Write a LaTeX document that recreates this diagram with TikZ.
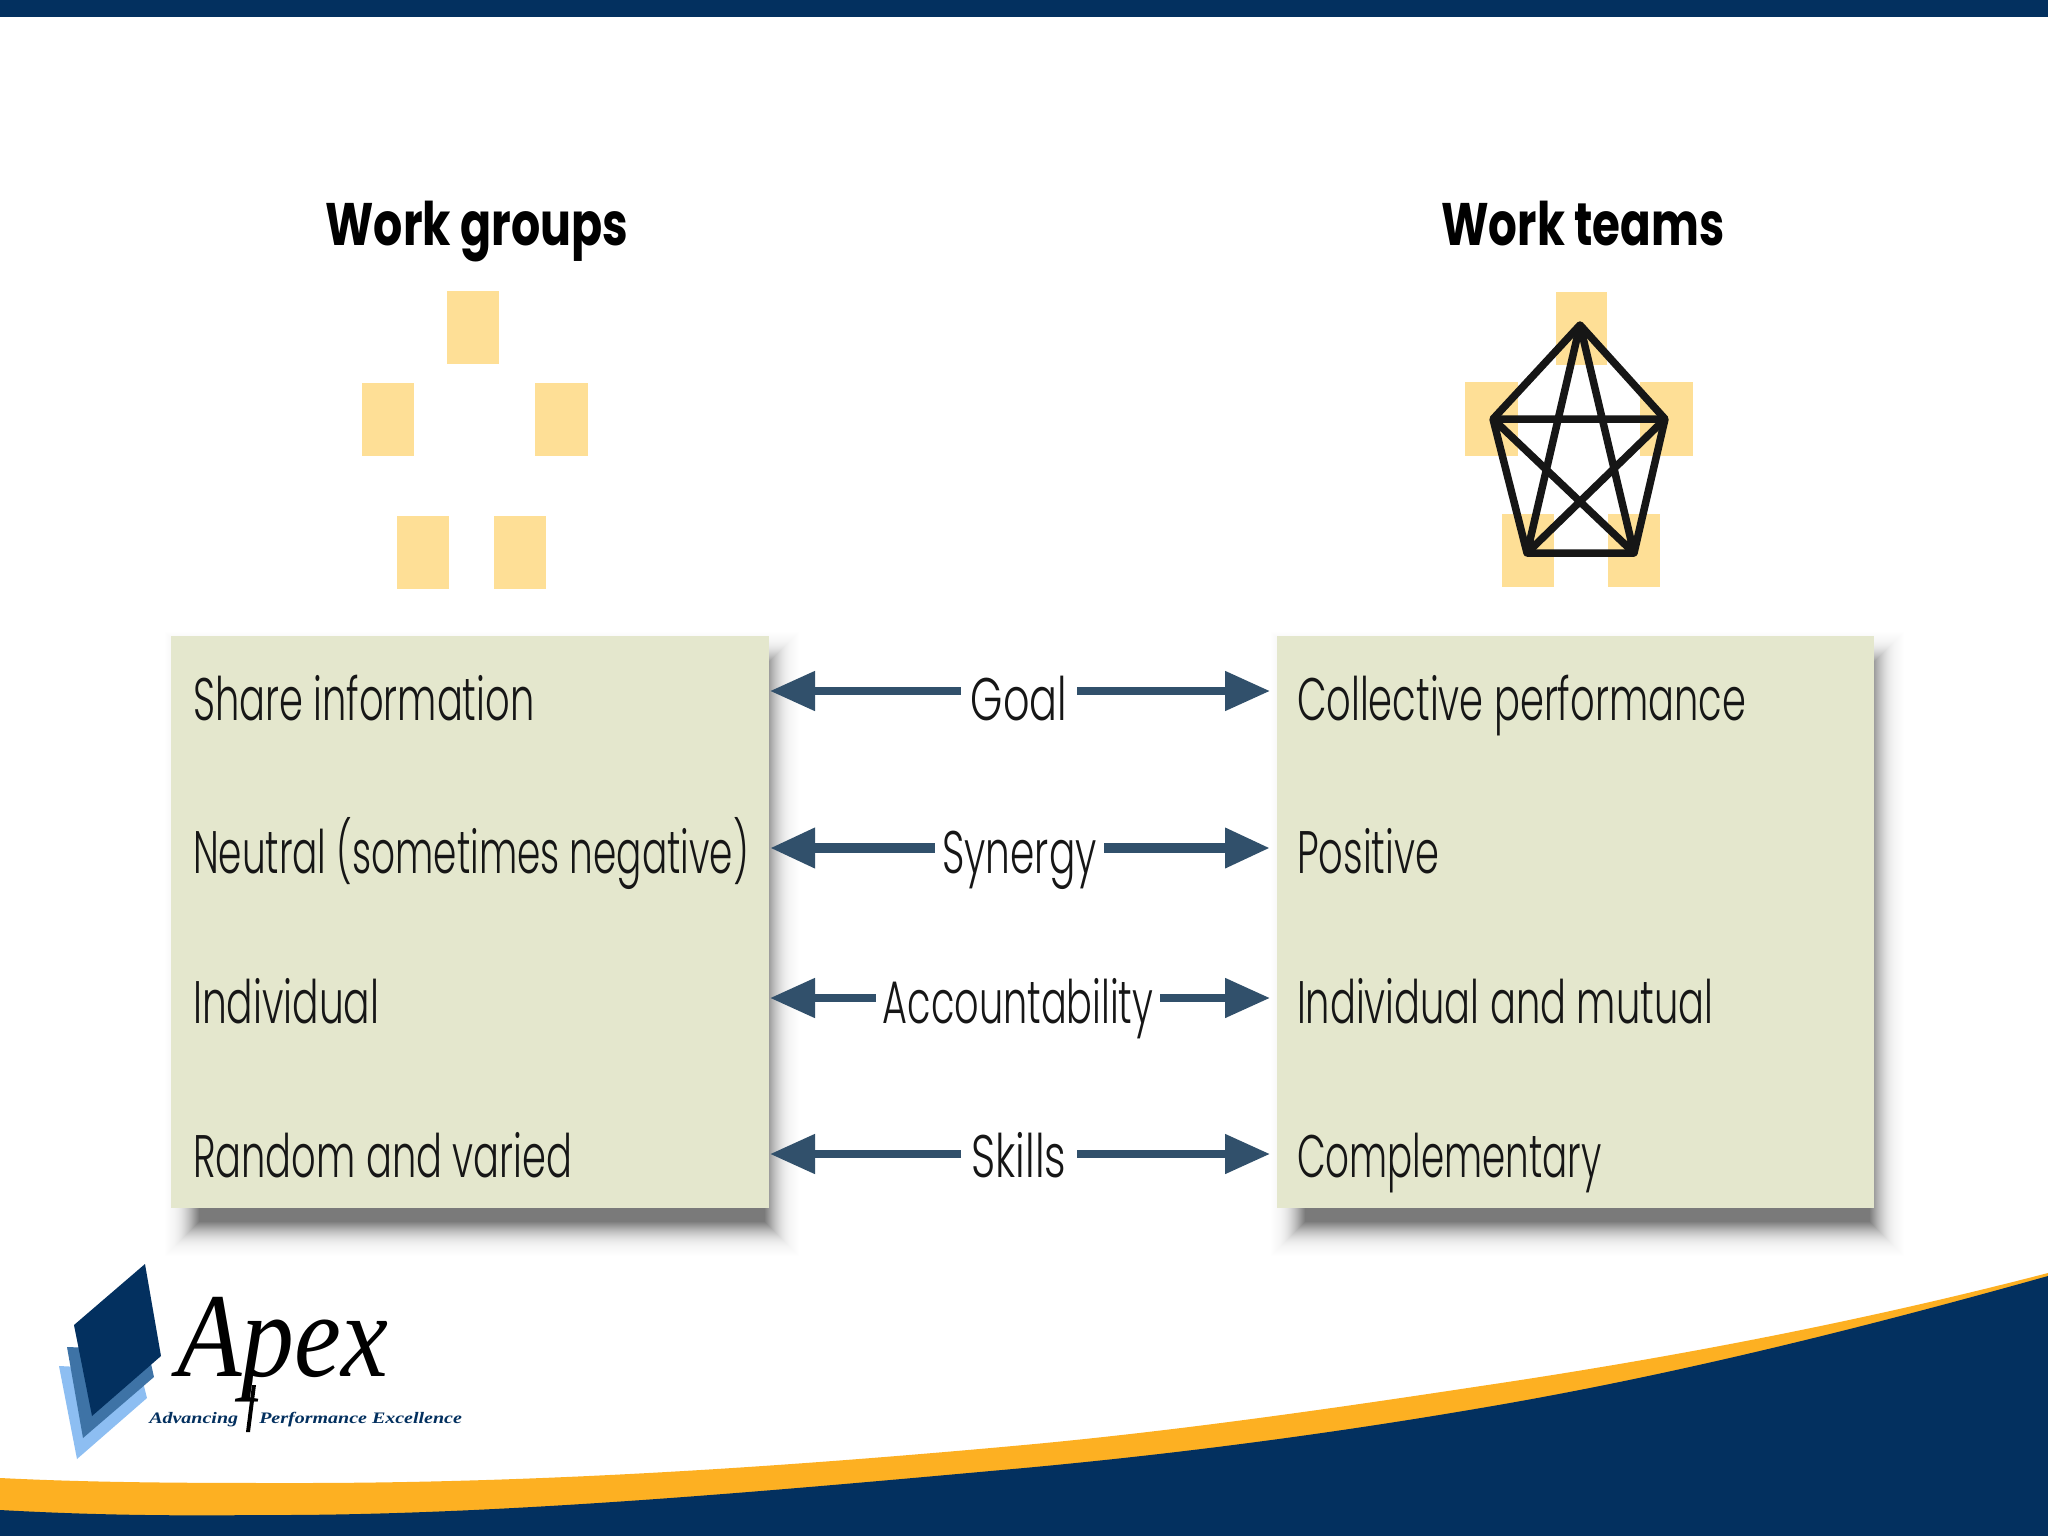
\documentclass[tikz,border=0pt]{standalone}
\usepackage{fontspec}
\setmainfont{Poppins}
\newfontfamily\lightfont{Poppins Light}
\newfontfamily\logofont{Liberation Serif}
\usetikzlibrary{arrows.meta}
\definecolor{navy}{HTML}{03305F}
\definecolor{gold}{HTML}{FDB022}
\definecolor{sand}{HTML}{FEDF96}
\definecolor{sage}{HTML}{E4E7CD}
\definecolor{steel}{HTML}{31506B}
\definecolor{ink}{HTML}{161616}
\definecolor{logomid}{HTML}{3E73A6}
\definecolor{logolight}{HTML}{8DBEF2}
\tikzset{
 x=1pt,y=-1pt,
 member/.style={fill=sand,draw=none},
 link/.style={draw=ink,line width=7.5pt,line join=round},
 panel/.style={fill=sage,draw=none,minimum width=598pt,minimum height=572pt,inner sep=0pt},
 rowtext/.style={anchor=base west,inner sep=0pt,text=ink,font=\lightfont\fontsize{60}{60}\selectfont,xscale=.64},
 headtext/.style={anchor=base,inner sep=0pt,text=black,font=\fontsize{60}{60}\selectfont\bfseries,xscale=.765},
 midtext/.style={inner sep=0pt,text=ink,font=\lightfont\fontsize{60}{60}\selectfont,xscale=.65},
 gaplabel/.style={draw=none,inner sep=0pt,minimum height=40pt},
 arr/.style={draw=steel,line width=8pt,-{Triangle[length=45pt,width=38pt]}},
 arrthick/.style={arr,line width=10pt},
}
\begin{document}
\begin{tikzpicture}
\useasboundingbox (0,0) rectangle (2048,1536);
\fill[white] (0,0) rectangle (2048,1536);
\fill[navy] (0,0) rectangle (2048,17);
% bottom swoosh
\fill[gold] (0,1478) .. controls (100,1483) and (200,1483) .. (300,1483)
  .. controls (541,1483) and (783,1467) .. (1024,1445)
  .. controls (1176,1431) and (1329,1409) .. (1481,1386)
  .. controls (1670,1358) and (1859,1322) .. (2048,1273)
  -- (2048,1536) -- (0,1536) -- cycle;
\fill[navy] (0,1510) .. controls (90,1515) and (170,1516) .. (261,1515)
  .. controls (500,1516) and (780,1490) .. (1024,1468)
  .. controls (1176,1454) and (1329,1434) .. (1481,1408)
  .. controls (1670,1376) and (1859,1329) .. (2048,1276)
  -- (2048,1536) -- (0,1536) -- cycle;
% headers
\node[headtext] (wg) at (477,245) {Work groups};
\node[headtext,xscale=.985] (wt) at (1583,245) {Work teams};
% left members
\fill[member] (447,291) rectangle (499,364);
\fill[member] (362,383) rectangle (414,456);
\fill[member] (535,383) rectangle (588,456);
\fill[member] (397,516) rectangle (449,589);
\fill[member] (494,516) rectangle (546,589);
% right members
\fill[member] (1556,292) rectangle (1607,365);
\fill[member] (1465,382) rectangle (1518,456);
\fill[member] (1640,382) rectangle (1693,456);
\fill[member] (1502,514) rectangle (1554,587);
\fill[member] (1608,514) rectangle (1660,587);
\coordinate (pt) at (1580,325);
\coordinate (pl) at (1493,419);
\coordinate (pr) at (1665,419);
\coordinate (pa) at (1527,553);
\coordinate (pb) at (1634,553);
\draw[link] (pt)--(pr)--(pb)--(pa)--(pl)--cycle;
\draw[link] (pt)--(pa) (pt)--(pb) (pl)--(pr) (pl)--(pb) (pr)--(pa);
% shadows
\foreach \d in {-18,-17,...,16}{
 \pgfmathsetmacro{\op}{.002+.05*((\d+18)/34)*((\d+18)/34)}
 \fill[black,opacity=\op] (183+\d,650+\d) rectangle (781-\d,1238-\d);
 \fill[black,opacity=\op] (1289+\d,650+\d) rectangle (1886-\d,1238-\d);
}
% panels
\node[panel,anchor=north west] (lp) at (171,636) {};
\node[panel,anchor=north west,minimum width=597pt] (rp) at (1277,636) {};
% rows
\node[rowtext] (l1) at (193,720) {Share information};
\node[rowtext,xscale=.975] (l2) at (193,873) {Neutral (sometimes negative)};
\node[rowtext,xscale=1.02] (l3) at (193,1023) {Individual};
\node[rowtext] (l4) at (193,1177) {Random and varied};
\node[rowtext] (r1) at (1297,720) {Collective performance};
\node[rowtext] (r2) at (1297,873) {Positive};
\node[rowtext] (r3) at (1297,1023) {Individual and mutual};
\node[rowtext,xscale=.97] (r4) at (1297,1177) {Complementary};
% connector labels
\node[gaplabel,minimum width=116pt] (g) at (1019,691) {};
\node[gaplabel,minimum width=169pt] (s) at (1019.5,848) {};
\node[gaplabel,minimum width=284pt] (a) at (1018,998) {};
\node[gaplabel,minimum width=116pt] (k) at (1019,1154) {};
\node[midtext,anchor=base,xscale=1.06] (gt) at (1019,720) {Goal};
\node[midtext,anchor=base] (st) at (1019.5,873) {Synergy};
\node[midtext,anchor=base,xscale=.98] (at) at (1018,1023) {Accountability};
\node[midtext,anchor=base,xscale=1.08] (kt) at (1019,1177) {Skills};
\coordinate (gl) at (770,691); \coordinate (gr) at (1270,691);
\coordinate (sl) at (770,848); \coordinate (sr) at (1270,848);
\coordinate (al) at (770,998); \coordinate (ar) at (1270,998);
\coordinate (kl) at (770,1154); \coordinate (kr) at (1270,1154);
\draw[arr] (g.west) -- (gl); \draw[arr] (g.east) -- (gr);
\draw[arrthick] (s.west) -- (sl); \draw[arrthick] (s.east) -- (sr);
\draw[arr] (a.west) -- (al); \draw[arr] (a.east) -- (ar);
\draw[arr] (k.west) -- (kl); \draw[arr] (k.east) -- (kr);
% logo
\fill[logolight] (59,1366) -- (77,1459) -- (147,1398) -- (140,1370) -- cycle;
\fill[logomid] (67,1347) -- (83,1438) -- (154,1377) -- (148,1350) -- cycle;
\fill[navy] (74,1325) -- (145,1264) -- (161,1356) -- (92,1416) -- cycle;
\node[anchor=base west,inner sep=0pt,text=black,font=\logofont\itshape\fontsize{120}{120}\selectfont,xscale=.88] (apex) at (177,1376) {Apex};
\fill[black] (256,1385) -- (252,1385) -- (246,1432) -- (250,1432) -- cycle;
\node[anchor=base west,inner sep=0pt,text=navy,font=\logofont\bfseries\itshape\fontsize{16}{16}\selectfont,xscale=1.25] (adv) at (149,1423) {Advancing};
\node[anchor=base west,inner sep=0pt,text=navy,font=\logofont\bfseries\itshape\fontsize{16}{16}\selectfont,xscale=1.25] (pe) at (259,1423) {Performance Excellence};
\end{tikzpicture}
\end{document}
